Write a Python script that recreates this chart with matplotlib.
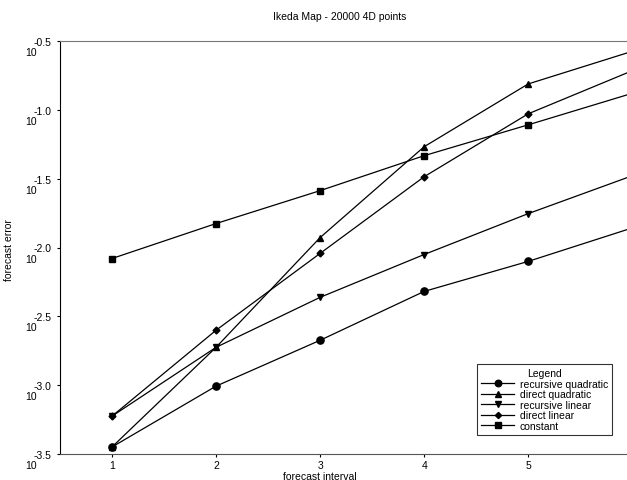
import numpy as np
import matplotlib.pyplot as plt

plt.rcParams['font.family'] = ['Liberation Sans', 'DejaVu Sans']

# forecast interval (last point lies just beyond the cropped right edge)
intervals = [1, 2, 3, 4, 5, 6]

# log10 of forecast error
recursive_quadratic = [-3.449, -3.007, -2.674, -2.319, -2.101, -1.858]
direct_quadratic = [-3.449, -2.725, -1.928, -1.268, -0.812, -0.575]
recursive_linear = [-3.225, -2.725, -2.362, -2.051, -1.754, -1.479]
direct_linear = [-3.225, -2.601, -2.043, -1.486, -1.029, -0.716]
constant = [-2.080, -1.826, -1.587, -1.333, -1.109, -0.880]

x_ticks = [1, 2, 3, 4, 5]
y_ticks = [-0.5, -1.0, -1.5, -2.0, -2.5, -3.0, -3.5]
y_tick_labels = ['-0.5', '-1.0', '-1.5', '-2.0', '-2.5', '-3.0', '-3.5']

fig = plt.figure(figsize=(6.27, 4.81), dpi=100)
ax = fig.add_axes([60 / 627, 1 - 455 / 481, 1 - 60 / 627, (455 - 42) / 481])

series = [
    (recursive_quadratic, 'o', 5.2, 'recursive quadratic'),
    (direct_quadratic, '^', 5, 'direct quadratic'),
    (recursive_linear, 'v', 5, 'recursive linear'),
    (direct_linear, 'D', 3.5, 'direct linear'),
    (constant, 's', 5, 'constant'),
]
for vals, mk, ms, name in series:
    ax.plot(intervals, vals, color='black', linewidth=0.9, marker=mk,
            markersize=ms, label=name, clip_on=True)

ax.set_xlim(0.5, 5.95)
ax.set_ylim(-3.5, -0.5)
ax.set_xticks(x_ticks)
ax.set_xticklabels([str(v) for v in x_ticks], fontsize=7.5)
ax.set_yticks(y_ticks)
ax.set_yticklabels(y_tick_labels, fontsize=7.5)
ax.tick_params(axis='y', length=2, width=0.8, pad=4)
ax.tick_params(axis='x', length=2, width=0.8, pad=2)

# base "10" sits below-left of each exponent label
for yv in y_ticks:
    ax.annotate('10', xy=(0, yv), xycoords=('axes fraction', 'data'),
                xytext=(-17, -8), textcoords='offset points',
                ha='right', va='center', fontsize=7.5)

ax.spines['right'].set_visible(False)
ax.spines['top'].set_color('#777777')
ax.spines['top'].set_linewidth(0.8)
ax.spines['left'].set_linewidth(0.8)
ax.spines['bottom'].set_color('#555555')
ax.spines['bottom'].set_linewidth(0.8)

fig.text(340 / 627, 1 - 17 / 481, 'Ikeda Map - 20000 4D points',
         ha='center', va='center', fontsize=7.5)
fig.text(320 / 627, 1 - 477.5 / 481, 'forecast interval',
         ha='center', va='center', fontsize=7.5)
fig.text(9 / 627, 1 - 250 / 481, 'forecast error', rotation=90,
         ha='center', va='center', fontsize=7.5)

leg = ax.legend(title='Legend', loc='lower right', bbox_to_anchor=(612 / 627, 1 - 436 / 481),
                bbox_transform=fig.transFigure, fontsize=7.5, title_fontsize=7.5,
                frameon=True, fancybox=False, handlelength=3.2, handletextpad=0.5,
                labelspacing=0.05, borderpad=0.4, borderaxespad=0, markerscale=0.9)
leg.get_frame().set_edgecolor('black')
leg.get_frame().set_linewidth(0.8)

fig.savefig('out.png', dpi=100)
